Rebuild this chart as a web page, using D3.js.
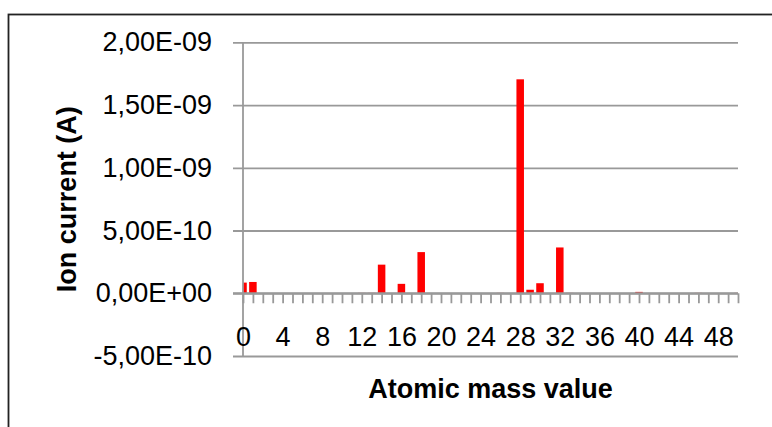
<!DOCTYPE html>
<html>
<head>
<meta charset="utf-8">
<script src="https://cdn.jsdelivr.net/npm/d3@7/dist/d3.min.js"></script>
<style>
  html, body { margin: 0; padding: 0; background: #fff; }
  svg { display: block; }
</style>
</head>
<body>
<svg id="chart" width="772" height="427"></svg>
<script>
// Mass spectrum: ion current per atomic mass value
const masses = d3.range(0, 51);
const currents = [
  8.5e-11, 9.0e-11, 0, 0, 0, 0, 0, 0, 0, 0,
  0, 0, 3e-12, 3e-12, 2.28e-10, 0, 7.5e-11, 0, 3.28e-10, 0,
  0, 0, 0, 0, 0, 2e-12, 3e-12, 0, 1.705e-9, 2.8e-11,
  8.0e-11, 0, 3.65e-10, 3e-12, 0, 0, 0, 0, 0, 0,
  1.1e-11, 2e-12, 0, 0, 0, 0, 3e-12, 0, 0, 0,
  3e-12
];
const yTickValues = [-5e-10, 0, 5e-10, 1e-9, 1.5e-9, 2e-9];
const xTickLabels = [0, 4, 8, 12, 16, 20, 24, 28, 32, 36, 40, 44, 48];
const xTitle = "Atomic mass value";
const yTitle = "Ion current (A)";

const svg = d3.select("#chart");
const plot = { left: 243, right: 738, top: 42.3, bottom: 356 };
const gridColor = "#999999";
const font = "'Liberation Sans', Arial, sans-serif";
const fontSize = 27;

// Excel-style scientific label: 2,00E-09
function sci(v) {
  if (v === 0) return "0,00E+00";
  let [m, e] = v.toExponential(2).split("e");
  const sign = e[0] === "-" ? "-" : "+";
  const digits = e.replace(/[+-]/, "").padStart(2, "0");
  return m.replace(".", ",") + "E" + sign + digits;
}

const x = d3.scalePoint().domain(masses).range([plot.left, plot.right]);
const y = d3.scaleLinear().domain([-5e-10, 2e-9]).range([plot.bottom, plot.top]);
const barW = x.step() * 0.76;

// outer frame
svg.append("rect")
  .attr("x", 8.5).attr("y", 14.5)
  .attr("width", 800).attr("height", 450)
  .attr("fill", "none").attr("stroke", "#222").attr("stroke-width", 1.8);

svg.append("defs").append("clipPath").attr("id", "plotClip")
  .append("rect")
  .attr("x", plot.left).attr("y", plot.top)
  .attr("width", plot.right - plot.left).attr("height", plot.bottom - plot.top);

// horizontal gridlines with left tick stubs
const yAxis = d3.axisLeft(y)
  .tickValues(yTickValues)
  .tickFormat(sci)
  .tickSize(-(plot.right - plot.left))
  .tickPadding(31);
const gy = svg.append("g").attr("transform", `translate(${plot.left},0)`).call(yAxis);
gy.select(".domain").remove();
gy.selectAll(".tick line")
  .attr("x1", -10)
  .attr("x2", plot.right - plot.left)
  .attr("stroke", gridColor).attr("stroke-width", 1.8);
gy.selectAll(".tick text")
  .attr("font-family", font).attr("font-size", fontSize).attr("fill", "#000");

// bars
svg.append("g").attr("clip-path", "url(#plotClip)")
  .selectAll("rect").data(masses.map((m, i) => ({ m, v: currents[i] })))
  .join("rect")
  .attr("x", d => x(d.m) - barW / 2)
  .attr("width", barW)
  .attr("y", d => y(Math.max(0, d.v)))
  .attr("height", d => Math.abs(y(d.v) - y(0)))
  .attr("fill", "#ff0000");

// vertical axis line
svg.append("line")
  .attr("x1", plot.left).attr("x2", plot.left)
  .attr("y1", plot.top).attr("y2", plot.bottom)
  .attr("stroke", gridColor).attr("stroke-width", 1.8);

// category axis on the zero line
const xAxis = d3.axisBottom(x)
  .tickValues(masses)
  .tickSize(10)
  .tickFormat(d => xTickLabels.includes(d) ? d : "");
const gx = svg.append("g").attr("transform", `translate(0,${y(0)})`).call(xAxis);
gx.select(".domain")
  .attr("d", `M${plot.left - 10},0H${plot.right}`)
  .attr("stroke", gridColor).attr("stroke-width", 1.8);
gx.selectAll(".tick line").attr("stroke", gridColor).attr("stroke-width", 1.8);
gx.selectAll(".tick text")
  .attr("font-family", font).attr("font-size", fontSize).attr("fill", "#000")
  .attr("y", 0).attr("dy", 53);

// axis titles
svg.append("text")
  .attr("x", (plot.left + plot.right) / 2).attr("y", 398)
  .attr("text-anchor", "middle")
  .attr("font-family", font).attr("font-weight", "bold").attr("font-size", fontSize)
  .text(xTitle);

svg.append("text")
  .attr("transform", `translate(76,${(plot.top + plot.bottom) / 2}) rotate(-90)`)
  .attr("text-anchor", "middle")
  .attr("font-family", font).attr("font-weight", "bold").attr("font-size", fontSize)
  .text(yTitle);
</script>
</body>
</html>
